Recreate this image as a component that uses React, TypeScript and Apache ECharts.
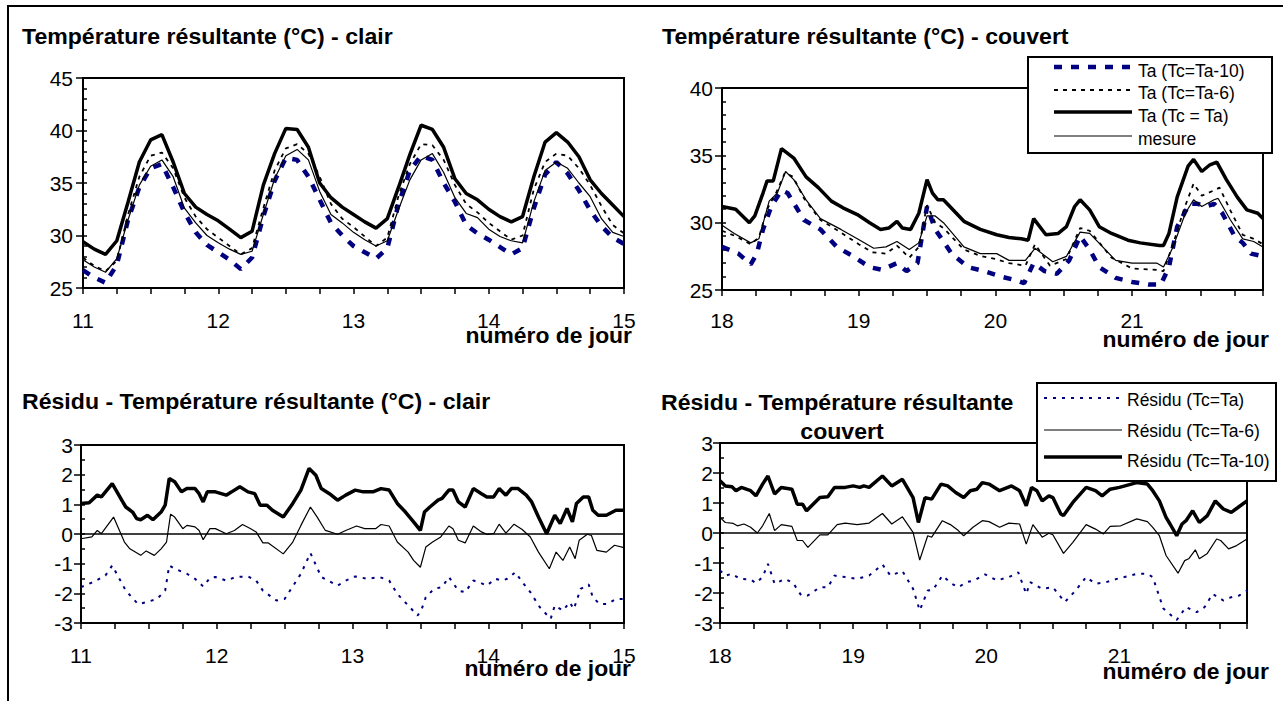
import React, { useEffect, useRef } from "react";
import * as echarts from "echarts";

const FONT = "'Liberation Sans', Arial, sans-serif";
const NAVY = "#000080";

// ---------- time grid (2-hour samples) for the "clair" temperature panel ----------
const daysClair = Array.from({ length: 49 }, (_, i) => 11 + i / 12);

// ---------- Température résultante - clair ----------
const clairTa10 = [
  26.7, 26.0, 25.5, 27.2, 31.5, 34.6, 36.4, 36.8, 34.6, 32.2, 30.3, 29.1,
  28.4, 27.7, 26.8, 27.9, 31.8, 35.2, 37.4, 37.2, 35.6, 33.4, 31.2, 30.0,
  29.0, 28.4, 27.8, 28.8, 33.0, 36.2, 37.6, 37.2, 35.0, 33.2, 31.0, 30.2,
  29.6, 28.9, 28.2, 28.8, 32.6, 35.8, 37.0, 35.9, 34.3, 32.4, 30.9, 29.8,
  29.2,
];
const clairTa6 = [
  27.9, 27.1, 26.6, 27.6, 32.0, 35.6, 37.6, 37.9, 36.4, 33.6, 31.8, 30.6,
  29.8, 29.0, 28.2, 28.8, 32.6, 36.2, 38.3, 38.7, 37.8, 35.6, 33.0, 31.6,
  30.8, 29.9, 29.0, 29.8, 33.8, 36.8, 38.7, 38.6, 37.2, 34.8, 33.0, 32.2,
  31.2, 30.4, 29.6, 30.0, 34.4, 37.0, 37.8, 37.6, 36.4, 34.8, 32.8, 31.0,
  30.2,
];
const clairTa = [
  29.4, 28.7, 28.2, 29.5, 33.2, 37.0, 39.1, 39.6, 37.0, 34.0, 32.7, 32.0,
  31.4, 30.6, 29.8, 30.4, 34.8, 37.8, 40.2, 40.1, 38.4, 35.0, 33.6, 32.7,
  32.0, 31.3, 30.7, 31.6, 34.6, 37.7, 40.5, 40.1, 38.4, 35.4, 34.0, 33.4,
  32.5, 31.8, 31.3, 31.8, 35.6, 38.9, 39.8, 38.9, 37.5, 35.3, 34.0, 32.9,
  31.8,
];
const clairMesure = [
  27.7, 27.0, 26.5, 27.8, 31.5, 34.8, 36.6, 37.2, 35.6, 32.6, 31.2, 30.0,
  29.3, 28.7, 28.2, 28.5, 32.0, 35.4, 37.6, 38.2, 37.2, 34.2, 32.0, 31.2,
  30.3, 29.6, 29.0, 29.5, 32.5, 35.3, 37.2, 37.8, 36.0, 33.6, 32.1, 31.7,
  30.6, 29.9, 29.5, 29.3, 33.2, 36.2, 37.0, 36.4, 35.0, 33.7, 31.6, 30.3,
  29.9,
];

// ---------- Température résultante - couvert : [jour, °C] ----------
const couvTa10 = [
  [18.0, 28.2], [18.12, 27.7], [18.21, 26.9], [18.255, 27.7], [18.3, 29.5], [18.36, 31.2],
  [18.435, 32.4], [18.48, 32.2], [18.6, 30.2], [18.72, 29.5], [18.84, 28.2], [18.96, 27.5],
  [19.08, 26.7], [19.17, 26.5], [19.28, 27.0], [19.35, 26.4], [19.43, 27.0], [19.5, 31.2],
  [19.56, 29.5], [19.68, 27.7], [19.8, 26.7], [19.92, 26.4], [20.04, 26.0], [20.16, 25.7],
  [20.21, 25.5], [20.28, 27.0], [20.36, 26.4], [20.45, 26.2], [20.54, 27.2], [20.62, 29.0],
  [20.69, 28.0], [20.76, 26.7], [20.88, 25.9], [21.0, 25.6], [21.12, 25.4], [21.21, 25.4],
  [21.27, 26.7], [21.33, 29.7], [21.42, 31.4], [21.48, 31.4], [21.54, 31.2], [21.6, 31.4],
  [21.66, 30.7], [21.75, 29.0], [21.81, 28.5], [21.87, 27.7], [21.958, 27.5],
];
const couvTa6 = [
  [18.0, 29.4], [18.1, 29.0], [18.21, 28.4], [18.27, 28.9], [18.33, 31.0], [18.4, 32.3],
  [18.46, 33.7], [18.52, 33.4], [18.6, 31.8], [18.72, 30.2], [18.85, 29.4], [19.0, 28.4],
  [19.1, 27.8], [19.2, 27.7], [19.28, 28.3], [19.37, 27.4], [19.44, 28.2], [19.5, 31.3],
  [19.56, 30.0], [19.62, 29.6], [19.77, 28.0], [19.9, 27.5], [20.0, 27.3], [20.1, 27.0],
  [20.22, 26.8], [20.29, 28.4], [20.4, 26.8], [20.52, 27.3], [20.62, 29.6], [20.69, 29.4],
  [20.85, 27.4], [21.0, 26.6], [21.18, 26.5], [21.23, 26.4], [21.3, 28.4], [21.38, 31.0],
  [21.45, 32.9], [21.51, 32.0], [21.6, 32.4], [21.64, 32.6], [21.72, 30.9], [21.81, 29.1],
  [21.89, 28.8], [21.958, 28.4],
];
const couvTa = [
  [18.0, 31.2], [18.1, 31.0], [18.2, 30.0], [18.24, 30.5], [18.3, 32.2], [18.33, 33.1],
  [18.375, 33.1], [18.435, 35.5], [18.525, 34.8], [18.615, 33.4], [18.705, 32.6], [18.8, 31.6],
  [18.885, 31.1], [18.99, 30.6], [19.08, 30.0], [19.16, 29.5], [19.22, 29.6], [19.28, 30.1],
  [19.32, 29.6], [19.38, 29.5], [19.44, 30.7], [19.5, 33.2], [19.54, 32.2], [19.58, 31.7],
  [19.62, 31.7], [19.77, 30.1], [19.89, 29.5], [20.01, 29.1], [20.1, 28.9], [20.19, 28.8],
  [20.24, 28.7], [20.28, 30.3], [20.37, 29.1], [20.46, 29.2], [20.52, 29.7], [20.58, 31.2],
  [20.62, 31.7], [20.69, 30.95], [20.76, 29.7], [20.85, 29.2], [20.97, 28.7], [21.06, 28.5],
  [21.2, 28.3], [21.23, 28.3], [21.27, 29.2], [21.33, 31.9], [21.41, 34.2], [21.45, 34.7],
  [21.51, 33.8], [21.57, 34.3], [21.62, 34.5], [21.69, 33.2], [21.77, 31.9], [21.84, 30.95],
  [21.92, 30.7], [21.958, 30.3],
];
const couvMesure = [
  [18.0, 29.8], [18.09, 29.2], [18.21, 28.5], [18.27, 28.8], [18.345, 31.6], [18.405, 32.2],
  [18.465, 33.8], [18.525, 33.2], [18.615, 31.7], [18.72, 30.3], [18.87, 29.5], [18.99, 28.8],
  [19.11, 28.1], [19.2, 28.2], [19.28, 28.6], [19.37, 28.0], [19.44, 28.5], [19.5, 30.5],
  [19.56, 30.5], [19.62, 30.0], [19.77, 28.2], [19.89, 27.7], [20.01, 27.7], [20.1, 27.2],
  [20.22, 27.2], [20.29, 28.1], [20.42, 27.1], [20.52, 27.5], [20.62, 29.3], [20.69, 29.2],
  [20.88, 27.2], [21.0, 27.0], [21.18, 27.0], [21.23, 26.7], [21.3, 28.2], [21.39, 30.7],
  [21.45, 31.7], [21.51, 31.2], [21.6, 31.7], [21.63, 31.8], [21.72, 30.2], [21.81, 28.8],
  [21.89, 28.6], [21.958, 28.2],
];

// ---------- Résidu - clair : [jour, °C] ----------
const resClairTa = [
  [11.0, -1.79], [11.09, -1.62], [11.18, -1.4], [11.23, -1.06], [11.33, -1.91], [11.42, -2.36],
  [11.48, -2.3], [11.56, -2.19], [11.62, -1.91], [11.65, -1.06], [11.69, -1.17], [11.78, -1.34],
  [11.84, -1.51], [11.9, -1.77], [11.95, -1.48], [11.99, -1.45], [12.07, -1.57], [12.14, -1.45],
  [12.23, -1.43], [12.29, -1.57], [12.34, -1.91], [12.44, -2.24], [12.5, -2.19], [12.62, -1.34],
  [12.69, -0.64], [12.77, -1.45], [12.89, -1.74], [12.95, -1.57], [13.02, -1.43], [13.11, -1.51],
  [13.2, -1.45], [13.27, -1.57], [13.33, -2.02], [13.41, -2.41], [13.48, -2.75], [13.51, -2.53],
  [13.54, -2.13], [13.6, -1.85], [13.66, -1.79], [13.71, -1.45], [13.78, -1.91], [13.83, -1.96],
  [13.89, -1.57], [13.93, -1.62], [13.99, -1.74], [14.05, -1.51], [14.1, -1.57], [14.14, -1.51],
  [14.2, -1.29], [14.25, -1.62], [14.31, -1.96], [14.38, -2.47], [14.46, -2.86], [14.49, -2.41],
  [14.55, -2.58], [14.6, -2.3], [14.63, -2.53], [14.66, -2.13], [14.68, -1.85], [14.74, -1.7],
  [14.77, -2.13], [14.82, -2.36], [14.88, -2.36], [14.94, -2.19], [15.0, -2.19],
];
const resClairTa6 = [
  [11.0, -0.16], [11.08, -0.1], [11.12, 0.12], [11.15, 0.01], [11.24, 0.57], [11.32, -0.27],
  [11.36, -0.5], [11.44, -0.72], [11.48, -0.57], [11.54, -0.72], [11.59, -0.5], [11.63, -0.27],
  [11.66, 0.67], [11.69, 0.57], [11.75, 0.18], [11.78, 0.29], [11.84, 0.24], [11.87, 0.12],
  [11.9, -0.19], [11.95, 0.18], [11.99, 0.18], [12.07, 0.01], [12.13, 0.12], [12.19, 0.32],
  [12.25, 0.18], [12.29, 0.07], [12.34, -0.3], [12.38, -0.3], [12.49, -0.67], [12.56, -0.27],
  [12.62, 0.29], [12.69, 0.91], [12.74, 0.57], [12.8, 0.12], [12.89, -0.01], [12.95, 0.12],
  [13.03, 0.27], [13.09, 0.18], [13.17, 0.18], [13.21, 0.32], [13.27, 0.27], [13.33, -0.27],
  [13.41, -0.61], [13.45, -0.89], [13.5, -1.12], [13.54, -0.44], [13.59, -0.27], [13.65, -0.1],
  [13.71, 0.27], [13.74, 0.18], [13.78, -0.21], [13.83, -0.3], [13.89, 0.27], [13.95, 0.07],
  [13.99, -0.01], [14.04, 0.01], [14.08, 0.33], [14.13, 0.03], [14.19, 0.33], [14.25, 0.15],
  [14.31, -0.1], [14.37, -0.61], [14.45, -1.17], [14.5, -0.61], [14.55, -0.89], [14.6, -0.44],
  [14.64, -0.83], [14.67, -0.21], [14.73, -0.01], [14.76, -0.05], [14.8, -0.55], [14.87, -0.61],
  [14.93, -0.38], [15.0, -0.46],
];
const resClairTa10 = [
  [11.0, 1.03], [11.06, 1.05], [11.12, 1.31], [11.15, 1.25], [11.23, 1.7], [11.3, 1.14],
  [11.33, 0.91], [11.38, 0.74], [11.41, 0.52], [11.44, 0.48], [11.49, 0.63], [11.53, 0.48],
  [11.59, 0.74], [11.62, 0.97], [11.65, 1.87], [11.69, 1.76], [11.74, 1.42], [11.78, 1.53],
  [11.84, 1.53], [11.87, 1.36], [11.9, 1.08], [11.93, 1.42], [11.99, 1.42], [12.07, 1.31],
  [12.11, 1.42], [12.17, 1.59], [12.23, 1.42], [12.28, 1.36], [12.32, 0.97], [12.37, 0.97],
  [12.41, 0.8], [12.49, 0.57], [12.56, 1.03], [12.62, 1.48], [12.68, 2.21], [12.73, 1.98],
  [12.77, 1.53], [12.83, 1.36], [12.89, 1.14], [12.95, 1.31], [13.02, 1.48], [13.08, 1.42],
  [13.15, 1.42], [13.21, 1.53], [13.27, 1.48], [13.33, 1.03], [13.39, 0.74], [13.45, 0.41],
  [13.5, 0.12], [13.53, 0.74], [13.57, 0.91], [13.63, 1.14], [13.66, 1.2], [13.71, 1.48],
  [13.74, 1.48], [13.78, 1.08], [13.83, 0.91], [13.89, 1.53], [13.95, 1.36], [13.99, 1.25],
  [14.04, 1.25], [14.08, 1.53], [14.13, 1.31], [14.17, 1.53], [14.22, 1.53], [14.28, 1.31],
  [14.32, 1.08], [14.37, 0.57], [14.43, 0.01], [14.49, 0.63], [14.53, 0.35], [14.58, 0.86],
  [14.62, 0.41], [14.65, 1.03], [14.7, 1.25], [14.74, 1.25], [14.77, 0.8], [14.81, 0.63],
  [14.87, 0.63], [14.94, 0.8], [15.0, 0.8],
];

// ---------- Résidu - couvert : [jour, °C] ----------
const resCouvTa = [
  [18.0, -1.25], [18.04, -1.42], [18.09, -1.36], [18.15, -1.53], [18.23, -1.55], [18.27, -1.67],
  [18.32, -1.47], [18.36, -1.03], [18.41, -1.69], [18.49, -1.53], [18.55, -1.67], [18.61, -2.08],
  [18.66, -2.08], [18.75, -1.81], [18.81, -1.81], [18.86, -1.42], [18.94, -1.47], [19.03, -1.53],
  [19.12, -1.42], [19.22, -1.05], [19.28, -1.42], [19.37, -1.27], [19.45, -1.86], [19.5, -2.58],
  [19.56, -1.92], [19.6, -1.89], [19.67, -1.42], [19.74, -1.69], [19.79, -1.81], [19.85, -1.64],
  [19.91, -1.58], [19.99, -1.38], [20.08, -1.58], [20.17, -1.47], [20.24, -1.31], [20.3, -2.03],
  [20.33, -1.64], [20.42, -1.86], [20.5, -1.81], [20.59, -2.3], [20.67, -1.92], [20.75, -1.47],
  [20.82, -1.69], [20.9, -1.64], [20.98, -1.53], [21.13, -1.36], [21.21, -1.36], [21.25, -1.47],
  [21.33, -2.52], [21.43, -2.9], [21.5, -2.47], [21.58, -2.64], [21.64, -2.47], [21.7, -2.03],
  [21.78, -2.25], [21.84, -2.14], [21.9, -2.08], [21.958, -1.92],
];
const resCouvTa6 = [
  [18.0, 0.52], [18.04, 0.35], [18.1, 0.32], [18.13, 0.24], [18.18, 0.3], [18.23, 0.19],
  [18.28, 0.0], [18.32, 0.24], [18.37, 0.65], [18.41, 0.08], [18.46, 0.28], [18.54, 0.22],
  [18.58, -0.25], [18.62, -0.25], [18.66, -0.48], [18.75, -0.06], [18.81, -0.06], [18.88, 0.28],
  [18.94, 0.33], [19.03, 0.28], [19.12, 0.33], [19.22, 0.65], [19.29, 0.3], [19.37, 0.54],
  [19.45, 0.02], [19.5, -0.9], [19.56, -0.09], [19.59, -0.14], [19.67, 0.41], [19.73, 0.28],
  [19.79, 0.08], [19.83, -0.09], [19.9, 0.19], [19.97, 0.41], [20.02, 0.38], [20.1, 0.19],
  [20.17, 0.33], [20.25, 0.3], [20.3, -0.37], [20.35, 0.28], [20.42, -0.14], [20.47, -0.01],
  [20.5, -0.06], [20.58, -0.68], [20.65, -0.31], [20.75, 0.28], [20.82, 0.13], [20.88, -0.03],
  [20.93, 0.22], [21.01, 0.24], [21.13, 0.47], [21.21, 0.38], [21.25, 0.19], [21.3, -0.09],
  [21.35, -0.75], [21.44, -1.34], [21.49, -0.92], [21.52, -0.86], [21.57, -0.56], [21.6, -0.86],
  [21.66, -0.68], [21.73, -0.2], [21.76, -0.25], [21.82, -0.53], [21.88, -0.42], [21.958, -0.2],
];
const resCouvTa10 = [
  [18.0, 1.74], [18.04, 1.57], [18.09, 1.54], [18.12, 1.41], [18.16, 1.52], [18.23, 1.41],
  [18.27, 1.24], [18.32, 1.63], [18.36, 1.9], [18.41, 1.3], [18.46, 1.52], [18.54, 1.46],
  [18.58, 0.96], [18.62, 0.96], [18.65, 0.74], [18.75, 1.18], [18.81, 1.21], [18.86, 1.52],
  [18.94, 1.52], [19.0, 1.57], [19.05, 1.52], [19.08, 1.57], [19.12, 1.52], [19.22, 1.9],
  [19.29, 1.57], [19.37, 1.79], [19.45, 1.18], [19.49, 0.35], [19.54, 1.18], [19.59, 1.13],
  [19.66, 1.63], [19.71, 1.57], [19.77, 1.35], [19.83, 1.18], [19.88, 1.41], [19.93, 1.46],
  [19.97, 1.68], [20.02, 1.63], [20.1, 1.41], [20.19, 1.57], [20.25, 1.41], [20.3, 0.91],
  [20.34, 1.52], [20.38, 1.41], [20.42, 1.07], [20.47, 1.24], [20.5, 1.18], [20.56, 0.63],
  [20.58, 0.58], [20.65, 1.02], [20.75, 1.52], [20.82, 1.41], [20.87, 1.24], [20.93, 1.46],
  [21.0, 1.52], [21.13, 1.68], [21.21, 1.63], [21.25, 1.41], [21.3, 1.07], [21.35, 0.52],
  [21.38, 0.3], [21.43, -0.09], [21.47, 0.3], [21.5, 0.41], [21.55, 0.74], [21.6, 0.35],
  [21.66, 0.58], [21.72, 1.07], [21.78, 0.8], [21.84, 0.69], [21.89, 0.85], [21.958, 1.07],
];

// ---------- names / texts ----------
const nTa10 = "Ta (Tc=Ta-10)";
const nTa6 = "Ta (Tc=Ta-6)";
const nTa = "Ta (Tc = Ta)";
const nMes = "mesure";
const nR0 = "Résidu (Tc=Ta)";
const nR6 = "Résidu (Tc=Ta-6)";
const nR10 = "Résidu (Tc=Ta-10)";

// ---------- styles ----------
const sTa10 = { color: NAVY, width: 4.5, type: [8, 9] };
const sTa6 = { color: "#000", width: 1.8, type: [4, 5] };
const sTa = { color: "#000", width: 3.5, type: "solid" };
const sMes = { color: "#000", width: 1.2, type: "solid" };
const sR0 = { color: NAVY, width: 2, type: [3, 6] };
const sR6 = { color: "#000", width: 1.2, type: "solid" };
const sR10 = { color: "#000", width: 3.5, type: "solid" };

const LABEL_SIZE = 21;
const intLabel = (v: number) => (Math.abs(v - Math.round(v)) < 1e-6 ? String(Math.round(v)) : "");

function xAxisOf(gridIndex: number, min: number, max: number, margin: number) {
  return {
    type: "value",
    gridIndex,
    min,
    max,
    interval: 1,
    axisLine: { show: true, onZero: false, lineStyle: { color: "#000", width: 2 } },
    axisTick: { show: true, length: 6, lineStyle: { color: "#000", width: 1.5 } },
    minorTick: { show: true, splitNumber: 4, length: 6, lineStyle: { color: "#000", width: 1.5 } },
    splitLine: { show: false },
    minorSplitLine: { show: false },
    axisLabel: { margin, fontSize: LABEL_SIZE, color: "#000", fontFamily: FONT, formatter: intLabel },
  };
}

function yAxisOf(gridIndex: number, min: number, max: number, interval: number, margin: number) {
  return {
    type: "value",
    gridIndex,
    position: "left",
    min,
    max,
    interval,
    axisLine: { show: true, onZero: false, lineStyle: { color: "#000", width: 2 } },
    axisTick: { show: true, length: 7, lineStyle: { color: "#000", width: 1.5 } },
    splitLine: { show: false },
    axisLabel: { margin, fontSize: LABEL_SIZE, color: "#000", fontFamily: FONT },
  };
}

// companion axis that only draws the small inner ticks
function yMinorOf(gridIndex: number, min: number, max: number, step: number) {
  return {
    type: "value",
    gridIndex,
    position: "left",
    min,
    max,
    interval: step,
    axisLine: { show: false, onZero: false },
    axisTick: { show: true, inside: true, length: 4, lineStyle: { color: "#000", width: 1.5 } },
    splitLine: { show: false },
    axisLabel: { show: false },
  };
}

function lineSeries(name: string, data: any[], idx: number, style: any, extra: any = {}) {
  return {
    type: "line",
    name,
    data,
    xAxisIndex: idx,
    yAxisIndex: idx,
    showSymbol: false,
    symbol: "none",
    lineStyle: style,
    itemStyle: { color: style.color },
    clip: true,
    ...extra,
  };
}

const zeroLine = {
  silent: true,
  symbol: ["none", "none"],
  label: { show: false },
  lineStyle: { color: "#000", width: 1.5, type: "solid" },
  data: [{ yAxis: 0 }],
};

function txt(text: string, x: number, y: number, opts: any = {}) {
  return {
    type: "text",
    x,
    y,
    z: 100,
    silent: true,
    scaleX: opts.scaleX ?? 1,
    style: {
      text,
      font: opts.font ?? `bold 22px ${FONT}`,
      fill: "#000",
      textAlign: opts.align ?? "left",
      textVerticalAlign: "middle",
    },
  };
}

function legendLine(x1: number, x2: number, y: number, style: any) {
  return {
    type: "line",
    z: 101,
    silent: true,
    shape: { x1, y1: y, x2, y2: y },
    style: {
      stroke: style.color,
      lineWidth: style.width,
      lineDash: Array.isArray(style.type) ? style.type : null,
    },
  };
}

export default function App() {
  const ref = useRef<HTMLDivElement>(null);

  useEffect(() => {
    document.body.style.margin = "0";
    if (!ref.current) return;
    const chart = echarts.init(ref.current, undefined, { renderer: "svg" });

    const toPairs = (vals: number[]) => vals.map((v, i) => [daysClair[i], v]);

    const legFont = `17.5px ${FONT}`;

    const option: any = {
      animation: false,
      backgroundColor: "#fff",
      grid: [
        { left: 83, top: 78, width: 541, height: 210 },
        { left: 722, top: 88, width: 541, height: 202 },
        { left: 81, top: 445, width: 543, height: 178 },
        { left: 720, top: 443, width: 527, height: 180 },
      ].map((g) => ({ ...g, show: true, borderColor: "#000", borderWidth: 2, backgroundColor: "transparent" })),
      xAxis: [
        xAxisOf(0, 11, 15, 22),
        xAxisOf(1, 18, 21.958, 20),
        xAxisOf(2, 11, 15, 22),
        xAxisOf(3, 18, 21.958, 22),
      ],
      yAxis: [
        yAxisOf(0, 25, 45, 5, 10),
        yAxisOf(1, 25, 40, 5, 9),
        yAxisOf(2, -3, 3, 1, 8),
        yAxisOf(3, -3, 3, 1, 7),
        yMinorOf(0, 25, 45, 1),
        yMinorOf(1, 25, 40, 1),
        yMinorOf(2, -3, 3, 0.5),
        yMinorOf(3, -3, 3, 0.5),
      ],
      series: [
        lineSeries(nTa10, toPairs(clairTa10), 0, sTa10),
        lineSeries(nTa6, toPairs(clairTa6), 0, sTa6),
        lineSeries(nTa, toPairs(clairTa), 0, sTa),
        lineSeries(nMes, toPairs(clairMesure), 0, sMes),

        lineSeries(nTa10, couvTa10, 1, sTa10),
        lineSeries(nTa6, couvTa6, 1, sTa6),
        lineSeries(nTa, couvTa, 1, sTa),
        lineSeries(nMes, couvMesure, 1, sMes),

        lineSeries(nR0, resClairTa, 2, sR0),
        lineSeries(nR6, resClairTa6, 2, sR6, { markLine: zeroLine }),
        lineSeries(nR10, resClairTa10, 2, sR10),

        lineSeries(nR0, resCouvTa, 3, sR0),
        lineSeries(nR6, resCouvTa6, 3, sR6, { markLine: zeroLine }),
        lineSeries(nR10, resCouvTa10, 3, sR10),
      ],
      graphic: [
        {
          type: "rect",
          z: 99,
          silent: true,
          shape: { x: 8, y: 6, width: 1400, height: 800 },
          style: { fill: "none", stroke: "#000", lineWidth: 2 },
        },
        // titles
        txt("Température résultante (°C) - clair", 22, 37, { scaleX: 1.05 }),
        txt("Température résultante (°C) - couvert", 662, 37, { scaleX: 1.05 }),
        txt("Résidu - Température résultante (°C) - clair", 22, 402, { scaleX: 1.05 }),
        txt("Résidu - Température résultante", 661, 403, { scaleX: 1.05 }),
        txt("couvert", 842, 432, { scaleX: 1.05, align: "center" }),
        // axis names
        txt("numéro de jour", 632, 336, { scaleX: 1.04, align: "right" }),
        txt("numéro de jour", 1269, 340, { scaleX: 1.04, align: "right" }),
        txt("numéro de jour", 631, 669, { scaleX: 1.04, align: "right" }),
        txt("numéro de jour", 1269, 672, { scaleX: 1.04, align: "right" }),
        // legend couvert
        {
          type: "rect",
          z: 100,
          silent: true,
          shape: { x: 1028, y: 57, width: 244, height: 96 },
          style: { fill: "#fff", stroke: "#000", lineWidth: 2 },
        },
        legendLine(1054, 1132, 67, sTa10),
        legendLine(1054, 1132, 90, sTa6),
        legendLine(1054, 1132, 112, sTa),
        legendLine(1054, 1132, 136, sMes),
        txt(nTa10, 1138, 70.5, { font: legFont }),
        txt(nTa6, 1138, 93, { font: legFont }),
        txt(nTa, 1138, 115.5, { font: legFont }),
        txt(nMes, 1138, 138.5, { font: legFont }),
        // legend residus couvert
        {
          type: "rect",
          z: 100,
          silent: true,
          shape: { x: 1037, y: 383, width: 239, height: 98 },
          style: { fill: "#fff", stroke: "#000", lineWidth: 2 },
        },
        legendLine(1044, 1122, 398, sR0),
        legendLine(1044, 1122, 430, sR6),
        legendLine(1044, 1122, 457, sR10),
        txt(nR0, 1127, 399.5, { font: legFont }),
        txt(nR6, 1127, 431, { font: legFont }),
        txt(nR10, 1127, 460.5, { font: legFont }),
      ],
    };

    chart.setOption(option);
    return () => chart.dispose();
  }, []);

  return <div ref={ref} style={{ width: 1283, height: 701 }} />;
}
